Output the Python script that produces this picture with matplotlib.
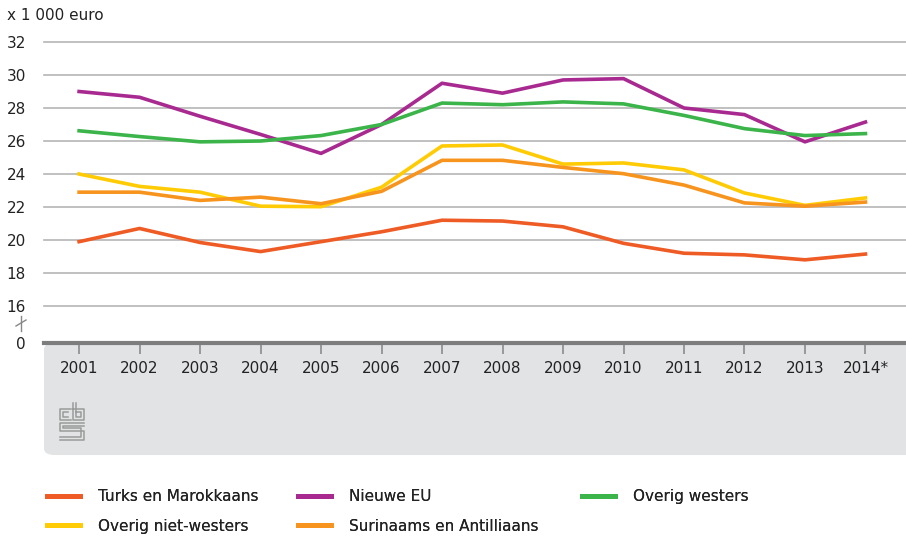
import matplotlib.pyplot as plt
from matplotlib.lines import Line2D
from matplotlib.patches import FancyBboxPatch

years = ["2001", "2002", "2003", "2004", "2005", "2006", "2007",
         "2008", "2009", "2010", "2011", "2012", "2013", "2014*"]

turks_marokkaans = [19.9, 20.7, 19.85, 19.3, 19.9, 20.5, 21.2,
                    21.15, 20.8, 19.8, 19.2, 19.1, 18.8, 19.15]
nieuwe_eu = [29.0, 28.65, 27.5, 26.4, 25.25, 27.0, 29.5,
             28.9, 29.7, 29.78, 28.0, 27.6, 25.95, 27.15]
overig_westers = [26.62, 26.27, 25.95, 26.0, 26.33, 27.0, 28.3,
                  28.2, 28.37, 28.25, 27.55, 26.75, 26.33, 26.45]
overig_niet_westers = [24.0, 23.25, 22.9, 22.05, 22.02, 23.2, 25.7,
                       25.76, 24.6, 24.67, 24.25, 22.85, 22.1, 22.55]
surinaams_antilliaans = [22.9, 22.9, 22.4, 22.6, 22.2, 22.95, 24.83,
                         24.83, 24.4, 24.02, 23.33, 22.25, 22.05, 22.3]

series = [
    ("Turks en Marokkaans", turks_marokkaans, "#ef5b25"),
    ("Nieuwe EU", nieuwe_eu, "#a82a90"),
    ("Overig westers", overig_westers, "#3bb44a"),
    ("Overig niet-westers", overig_niet_westers, "#ffcb05"),
    ("Surinaams en Antilliaans", surinaams_antilliaans, "#f7941e"),
]

yticks = [16, 18, 20, 22, 24, 26, 28, 30, 32]
YBOT = 13.76  # axis is broken: this position is labelled 0

plt.rcParams["font.family"] = ["DejaVu Sans"]

fig = plt.figure(figsize=(9.06, 5.37), dpi=100)
W, H = 906, 537
ax = fig.add_axes([44 / W, 1 - 343 / H, 1 - 44 / W, (343 - 42) / H])

# grey panel under the axis
panel = FancyBboxPatch((44 / W, 1 - 455 / H), (906 - 44) / W + 0.02, (455 - 343) / H,
                       boxstyle="round,pad=0,rounding_size=0.012",
                       transform=fig.transFigure, facecolor="#e2e3e5",
                       edgecolor="none", zorder=-5)
fig.patches.append(panel)

x = list(range(len(years)))
lines = {}
for name, vals, col in series:
    lines[name], = ax.plot(x, vals, color=col, lw=2.6, label=name, zorder=3)

ax.set_xlim(-0.58, 13.67)
ax.set_ylim(YBOT, 32)
for v in yticks:
    ax.axhline(v, color="#b5b5b5", lw=1.2, zorder=1, clip_on=False)
ax.set_yticks(yticks + [YBOT])
ax.set_yticklabels([str(v) for v in yticks] + ["0"])
ax.tick_params(axis="y", length=0, pad=13, labelsize=11, labelcolor="#222222")
ax.set_xticks(x)
ax.set_xticklabels(years)
ax.tick_params(axis="x", length=8, width=1.2, color="#8c8c8c", pad=5,
               labelsize=11, labelcolor="#222222")
for s in ["top", "right", "left"]:
    ax.spines[s].set_visible(False)
ax.spines["bottom"].set_color("#7d7d7d")
ax.spines["bottom"].set_linewidth(3)
ax.patch.set_alpha(0)

fig.text(7 / W, 1 - 16 / H, "x 1 000 euro", fontsize=11, color="#222222",
         va="center", ha="left")

# axis break mark
fig.add_artist(Line2D([21 / W, 21 / W], [1 - 316 / H, 1 - 331 / H],
                      color="#888888", lw=1, transform=fig.transFigure))
fig.add_artist(Line2D([16 / W, 26 / W], [1 - 326 / H, 1 - 320 / H],
                      color="#888888", lw=1, transform=fig.transFigure))

# cbs logo (simplified)
lc = "#9a9a9a"
def fl(xs, ys):
    fig.add_artist(Line2D([v / W for v in xs], [1 - v / H for v in ys],
                          color=lc, lw=1.1, transform=fig.transFigure))
fl([71, 60, 60, 71], [409, 409, 420, 420])
fl([68, 63, 63, 68], [412, 412, 417, 417])
fl([73, 73, 84, 84, 73], [403, 420, 420, 409, 409])
fl([76, 76, 81, 81, 76], [403, 417, 417, 412, 412])
fl([84, 60, 60, 84, 84, 60], [423, 423, 431, 431, 440, 440])
fl([84, 63, 63, 81, 81, 60], [426, 426, 428, 428, 437, 437])

# legend: one block per column
columns = [
    (47, ["Turks en Marokkaans", "Overig niet-westers"]),
    (298, ["Nieuwe EU", "Surinaams en Antilliaans"]),
    (582, ["Overig westers"]),
]
for xpos, names in columns:
    leg = fig.legend([lines[n] for n in names], names, loc="upper left",
                     bbox_to_anchor=(xpos / W, 1 - 489 / H), borderaxespad=0,
                     borderpad=0, frameon=False, handlelength=2.15,
                     handletextpad=1.2, labelspacing=0.95,
                     prop={"size": 11})
    for t in leg.get_texts():
        t.set_color("#222222")
    for h in leg.legend_handles:
        h.set_linewidth(3.5)
    fig.add_artist(leg)

fig.savefig("out.png", dpi=100)
